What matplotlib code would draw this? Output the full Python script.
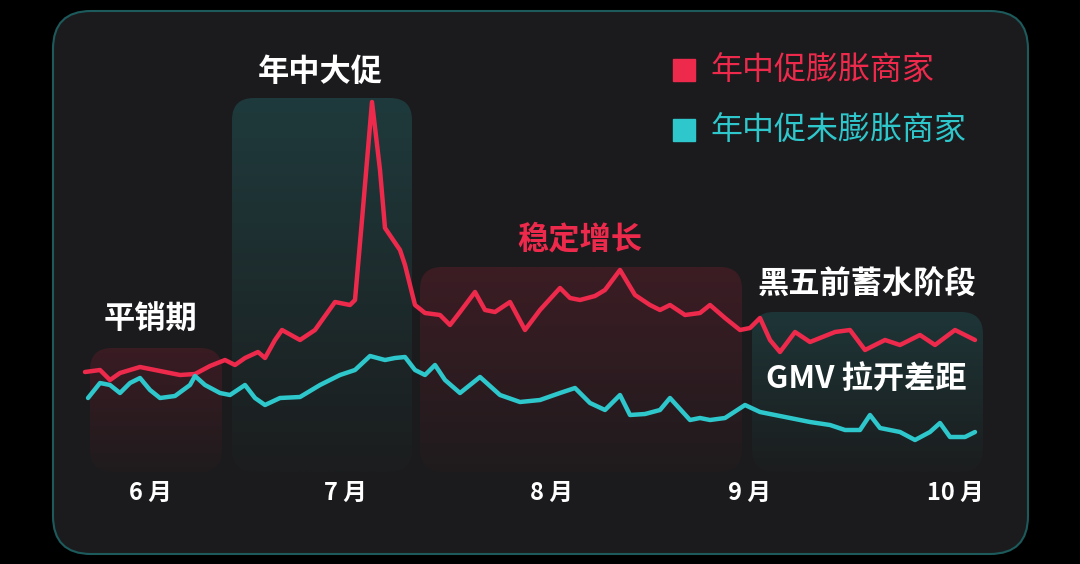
import matplotlib
matplotlib.use("Agg")
import matplotlib.pyplot as plt
import numpy as np
from matplotlib.patches import FancyBboxPatch

plt.rcParams['font.family'] = ['Noto Sans CJK SC', 'DejaVu Sans']

# Series (read in picture pixel coordinates; y grows downward)
red_x = [85,100,110,120,140,160,180,195,210,225,235,245,258,265,275,282,300,315,335,350,355,362,372,380,385,400,405,415,425,440,450,460,475,485,495,510,525,540,560,570,580,595,605,620,635,650,660,670,685,700,710,725,740,750,760,770,780,795,810,835,850,865,885,900,920,935,955,975]
red_y = [372,370,380,373,367,371,375,374,366,360,365,358,352,358,340,330,340,330,302,305,300,220,102,170,228,250,265,305,313,315,325,312,292,310,312,302,330,310,288,298,300,296,290,270,295,305,310,305,315,313,305,318,330,328,318,340,352,332,342,332,330,350,340,345,335,345,330,340]
teal_x = [88,100,110,120,130,140,150,160,175,190,195,205,220,230,245,255,265,280,300,320,340,355,370,385,395,405,415,425,435,445,460,480,500,520,540,560,575,590,605,620,630,645,660,670,690,700,710,725,745,760,790,810,830,845,860,870,880,900,915,930,940,950,965,975]
teal_y = [398,383,385,393,383,378,390,398,396,385,376,385,393,395,385,398,405,398,397,385,375,370,356,360,358,357,370,375,365,380,393,377,395,402,400,393,388,403,410,395,415,414,410,398,420,418,420,418,405,412,418,422,425,430,430,415,428,432,440,432,423,437,437,432]

months = ["6 月", "7 月", "8 月", "9 月", "10 月"]
month_x = [150, 345, 552, 750, 955]
series_names = ["年中促膨胀商家", "年中促未膨胀商家"]

RED = "#ee2a4c"
TEAL = "#2ec7cc"

fig = plt.figure(figsize=(10.8, 5.64), dpi=100, facecolor="black")
ax = fig.add_axes([0, 0, 1, 1])
ax.set_xlim(0, 1080)
ax.set_ylim(564, 0)
ax.axis("off")
ax.set_facecolor("black")

panel = FancyBboxPatch((53, 11), 975, 543, boxstyle="round,pad=0,rounding_size=38",
                       fc="#1b1b1d", ec="#1d5a5c", lw=1.5, zorder=0)
ax.add_patch(panel)

def gbox(x0, y0, x1, y1, c_top, c_bot):
    p = FancyBboxPatch((x0, y0), x1 - x0, y1 - y0, boxstyle="round,pad=0,rounding_size=22",
                       fc="none", ec="none", zorder=1)
    ax.add_patch(p)
    t = np.linspace(0, 1, 100)[:, None, None]
    ct = np.array(matplotlib.colors.to_rgb(c_top))
    cb = np.array(matplotlib.colors.to_rgb(c_bot))
    img = ct * (1 - t) + cb * t
    img = np.repeat(img, 2, axis=1)
    im = ax.imshow(img, extent=(x0, x1, y1, y0), aspect="auto", zorder=1, interpolation="bilinear")
    im.set_clip_path(p)

gbox(90, 348, 222, 472, "#3a1c23", "#1f1b1d")
gbox(232, 98, 412, 472, "#1f3a3c", "#1b1d1e")
gbox(420, 267, 742, 472, "#3c1d24", "#1f1b1d")
gbox(752, 312, 983, 472, "#1e3537", "#1b1d1e")
ax.set_xlim(0, 1080)
ax.set_ylim(564, 0)

ax.plot(red_x, red_y, color=RED, lw=3.2, solid_joinstyle="round", solid_capstyle="round", zorder=3)
ax.plot(teal_x, teal_y, color=TEAL, lw=3.2, solid_joinstyle="round", solid_capstyle="round", zorder=3)

for m, x in zip(months, month_x):
    ax.text(x, 493, m, color="white", fontsize=17, ha="center", va="center", fontweight="bold", zorder=4)

kw = dict(fontsize=22.5, fontweight="bold", ha="center", va="center", zorder=4)
ax.text(320, 72, "年中大促", color="white", **kw)
ax.text(150, 320, "平销期", color="white", **kw)
ax.text(580, 240, "稳定增长", color=RED, **kw)
ax.text(867, 285, "黑五前蓄水阶段", color="white", **kw)
ax.text(866, 380, "GMV 拉开差距", color="white", **kw)

for i, (name, c) in enumerate(zip(series_names, [RED, TEAL])):
    y = 70 + 60 * i
    ax.add_patch(plt.Rectangle((673, y - 11), 22, 22, color=c, zorder=4))
    ax.text(710, y, name, color=c, fontsize=23, ha="left", va="center", zorder=4)

fig.savefig("out.png", dpi=100, facecolor="black")
